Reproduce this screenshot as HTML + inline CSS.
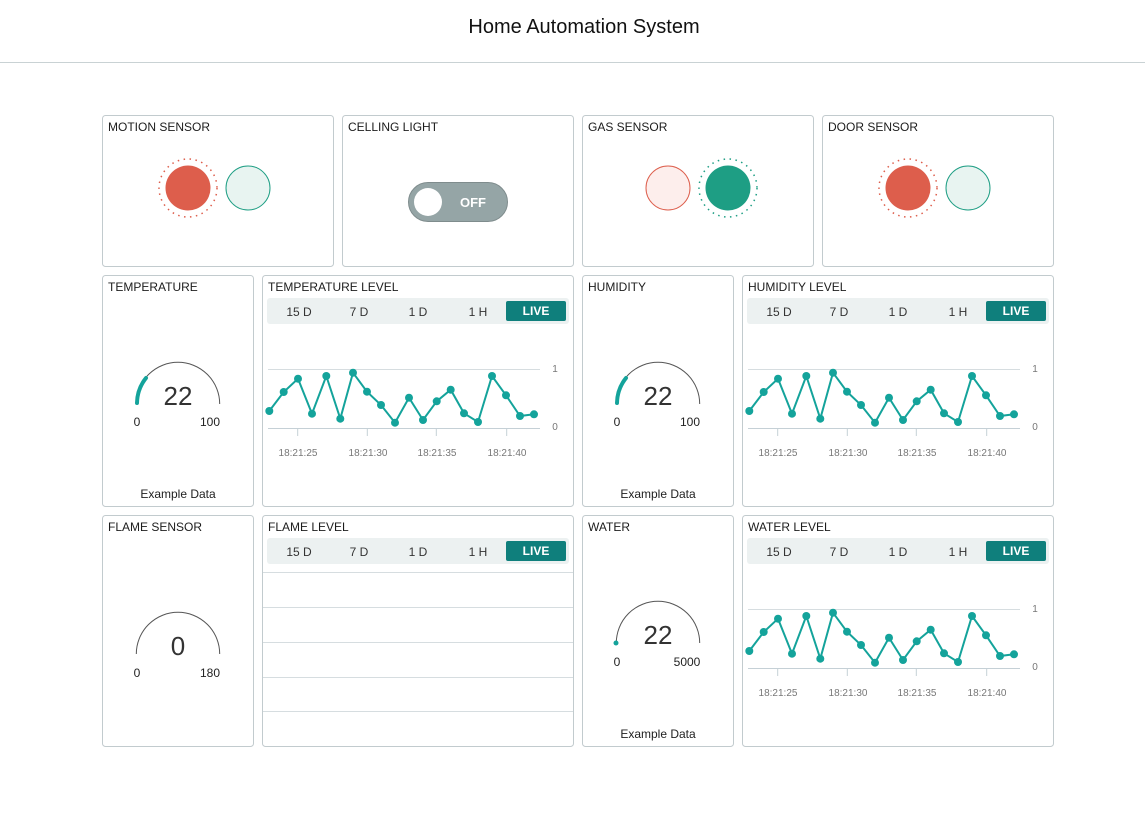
<!DOCTYPE html>
<html><head><meta charset="utf-8"><style>
html,body{margin:0;padding:0;background:#fff;width:1145px;height:834px;overflow:hidden}
svg{display:block}
text{font-family:"Liberation Sans",sans-serif}
</style></head><body>
<svg width="1145" height="834" viewBox="0 0 1145 834" xmlns="http://www.w3.org/2000/svg">
<defs>
<g id="series">
<polyline fill="none" stroke="#14a39b" stroke-width="2" points="269.3,411 283.7,392 298,378.7 312,413.7 326.3,376 340.3,418.7 353,372.7 367,391.7 381,405 395,422.7 409,397.7 423,420 436.7,401.3 450.7,389.7 464,413.3 478,422 492,376 506,395.3 520,416 534,414.3"/>
<g fill="#14a39b">
<circle cx="269.3" cy="411" r="4"/><circle cx="283.7" cy="392" r="4"/><circle cx="298" cy="378.7" r="4"/><circle cx="312" cy="413.7" r="4"/><circle cx="326.3" cy="376" r="4"/><circle cx="340.3" cy="418.7" r="4"/><circle cx="353" cy="372.7" r="4"/><circle cx="367" cy="391.7" r="4"/><circle cx="381" cy="405" r="4"/><circle cx="395" cy="422.7" r="4"/><circle cx="409" cy="397.7" r="4"/><circle cx="423" cy="420" r="4"/><circle cx="436.7" cy="401.3" r="4"/><circle cx="450.7" cy="389.7" r="4"/><circle cx="464" cy="413.3" r="4"/><circle cx="478" cy="422" r="4"/><circle cx="492" cy="376" r="4"/><circle cx="506" cy="395.3" r="4"/><circle cx="520" cy="416" r="4"/><circle cx="534" cy="414.3" r="4"/>
</g>
</g>
<g id="axes" stroke="#d6dde0" stroke-width="1">
<line x1="268" y1="369.5" x2="540" y2="369.5"/>
<line x1="268" y1="428.5" x2="540" y2="428.5" stroke="#c5d0d6"/>
<line x1="297.7" y1="429" x2="297.7" y2="436" stroke="#c5d0d6"/>
<line x1="367.3" y1="429" x2="367.3" y2="436" stroke="#c5d0d6"/>
<line x1="436.3" y1="429" x2="436.3" y2="436" stroke="#c5d0d6"/>
<line x1="506.7" y1="429" x2="506.7" y2="436" stroke="#c5d0d6"/>
</g>
<g id="tabs">
<rect x="267" y="298" width="302" height="26" rx="3" fill="#ecf1f1"/>
<rect x="506" y="301" width="60" height="20" rx="2" fill="#0f7f7c"/>
</g>
<g id="dots">
<circle r="29" fill="none" stroke-width="1.5" stroke-dasharray="1.5 4.5"/>
</g>
</defs>
<text x="584" y="33" text-anchor="middle" font-size="20" fill="#111">Home Automation System</text>
<line x1="0" y1="62.5" x2="1145" y2="62.5" stroke="#c9d2d4"/>

<g fill="#fff" stroke="#c2cbce" stroke-width="1">
<rect x="102.5" y="115.5" width="231" height="151" rx="3"/>
<rect x="342.5" y="115.5" width="231" height="151" rx="3"/>
<rect x="582.5" y="115.5" width="231" height="151" rx="3"/>
<rect x="822.5" y="115.5" width="231" height="151" rx="3"/>
<rect x="102.5" y="275.5" width="151" height="231" rx="3"/>
<rect x="262.5" y="275.5" width="311" height="231" rx="3"/>
<rect x="582.5" y="275.5" width="151" height="231" rx="3"/>
<rect x="742.5" y="275.5" width="311" height="231" rx="3"/>
<rect x="102.5" y="515.5" width="151" height="231" rx="3"/>
<rect x="262.5" y="515.5" width="311" height="231" rx="3"/>
<rect x="582.5" y="515.5" width="151" height="231" rx="3"/>
<rect x="742.5" y="515.5" width="311" height="231" rx="3"/>
</g>

<g font-size="12" fill="#1c1c1c">
<text x="108" y="131">MOTION SENSOR</text>
<text x="348" y="131">CELLING LIGHT</text>
<text x="588" y="131">GAS SENSOR</text>
<text x="828" y="131">DOOR SENSOR</text>
<text x="108" y="291">TEMPERATURE</text>
<text x="268" y="291">TEMPERATURE LEVEL</text>
<text x="588" y="291">HUMIDITY</text>
<text x="748" y="291">HUMIDITY LEVEL</text>
<text x="108" y="531">FLAME SENSOR</text>
<text x="268" y="531">FLAME LEVEL</text>
<text x="588" y="531">WATER</text>
<text x="748" y="531">WATER LEVEL</text>
</g>

<!-- motion -->
<g transform="translate(188,188)" stroke="#dd5e4c"><use href="#dots"/></g>
<circle cx="188" cy="188" r="22.5" fill="#dd5e4c"/>
<circle cx="248" cy="188" r="22" fill="#e8f4f1" stroke="#1e9e84"/>
<!-- door -->
<g transform="translate(908,188)" stroke="#dd5e4c"><use href="#dots"/></g>
<circle cx="908" cy="188" r="22.5" fill="#dd5e4c"/>
<circle cx="968" cy="188" r="22" fill="#e8f4f1" stroke="#1e9e84"/>
<!-- gas -->
<circle cx="668" cy="188" r="22" fill="#fdeeec" stroke="#dd5e4c"/>
<g transform="translate(728,188)" stroke="#1e9e84"><use href="#dots"/></g>
<circle cx="728" cy="188" r="22.5" fill="#1e9e84"/>
<!-- toggle -->
<rect x="408.5" y="182.5" width="99" height="39" rx="19.5" fill="#95a5a6" stroke="#7f8c8d"/>
<circle cx="428" cy="202" r="14" fill="#fff"/>
<text x="473" y="207" text-anchor="middle" font-size="13" font-weight="bold" fill="#fff">OFF</text>

<!-- gauges -->
<g fill="none" stroke="#555" stroke-width="1">
<path d="M136.3,404 A41.7,41.7 0 0 1 219.7,404"/>
<path d="M616.3,404 A41.7,41.7 0 0 1 699.7,404"/>
<path d="M136.3,654 A41.7,41.7 0 0 1 219.7,654"/>
<path d="M616.3,643 A41.7,41.7 0 0 1 699.7,643"/>
</g>
<g fill="none" stroke="#14a39b" stroke-width="4" stroke-linecap="round">
<path d="M137,403 A41,41 0 0 1 146,378"/>
<path d="M617,403 A41,41 0 0 1 626,378"/>
</g>
<circle cx="616" cy="643" r="2.5" fill="#14a39b"/>
<g fill="#333" text-anchor="middle">
<text x="178" y="405" font-size="26">22</text>
<text x="658" y="405" font-size="26">22</text>
<text x="178" y="655" font-size="26">0</text>
<text x="658" y="644" font-size="26">22</text>
</g>
<g fill="#222" font-size="12" text-anchor="middle">
<text x="137" y="426">0</text><text x="210" y="426">100</text>
<text x="617" y="426">0</text><text x="690" y="426">100</text>
<text x="137" y="677">0</text><text x="210" y="677">180</text>
<text x="617" y="666">0</text><text x="687" y="666">5000</text>
<text x="178" y="498">Example Data</text>
<text x="658" y="498">Example Data</text>
<text x="658" y="738">Example Data</text>
</g>

<!-- tabs -->
<use href="#tabs"/>
<use href="#tabs" transform="translate(480,0)"/>
<use href="#tabs" transform="translate(0,240)"/>
<use href="#tabs" transform="translate(480,240)"/>
<g font-size="12" fill="#333" text-anchor="middle">
<text x="299" y="316">15 D</text><text x="359" y="316">7 D</text><text x="418" y="316">1 D</text><text x="478" y="316">1 H</text>
<text x="779" y="316">15 D</text><text x="839" y="316">7 D</text><text x="898" y="316">1 D</text><text x="958" y="316">1 H</text>
<text x="299" y="556">15 D</text><text x="359" y="556">7 D</text><text x="418" y="556">1 D</text><text x="478" y="556">1 H</text>
<text x="779" y="556">15 D</text><text x="839" y="556">7 D</text><text x="898" y="556">1 D</text><text x="958" y="556">1 H</text>
</g>
<g font-size="12" font-weight="bold" fill="#fff" text-anchor="middle">
<text x="536" y="315">LIVE</text><text x="1016" y="315">LIVE</text>
<text x="536" y="555">LIVE</text><text x="1016" y="555">LIVE</text>
</g>

<!-- charts -->
<use href="#axes"/><use href="#series"/>
<use href="#axes" transform="translate(480,0)"/><use href="#series" transform="translate(480,0)"/>
<use href="#axes" transform="translate(480,240)"/><use href="#series" transform="translate(480,240)"/>
<g font-size="10" fill="#777" text-anchor="middle">
<text x="298" y="456">18:21:25</text><text x="368" y="456">18:21:30</text><text x="437" y="456">18:21:35</text><text x="507" y="456">18:21:40</text>
<text x="778" y="456">18:21:25</text><text x="848" y="456">18:21:30</text><text x="917" y="456">18:21:35</text><text x="987" y="456">18:21:40</text>
<text x="778" y="696">18:21:25</text><text x="848" y="696">18:21:30</text><text x="917" y="696">18:21:35</text><text x="987" y="696">18:21:40</text>
<text x="555" y="372">1</text><text x="555" y="430">0</text>
<text x="1035" y="372">1</text><text x="1035" y="430">0</text>
<text x="1035" y="612">1</text><text x="1035" y="670">0</text>
</g>
<!-- flame level empty grid -->
<g stroke="#d6dde0">
<line x1="263" y1="572.5" x2="573" y2="572.5"/>
<line x1="263" y1="607.5" x2="573" y2="607.5"/>
<line x1="263" y1="642.5" x2="573" y2="642.5"/>
<line x1="263" y1="677.5" x2="573" y2="677.5"/>
<line x1="263" y1="711.5" x2="573" y2="711.5"/>
</g>
</svg>
</body></html>
